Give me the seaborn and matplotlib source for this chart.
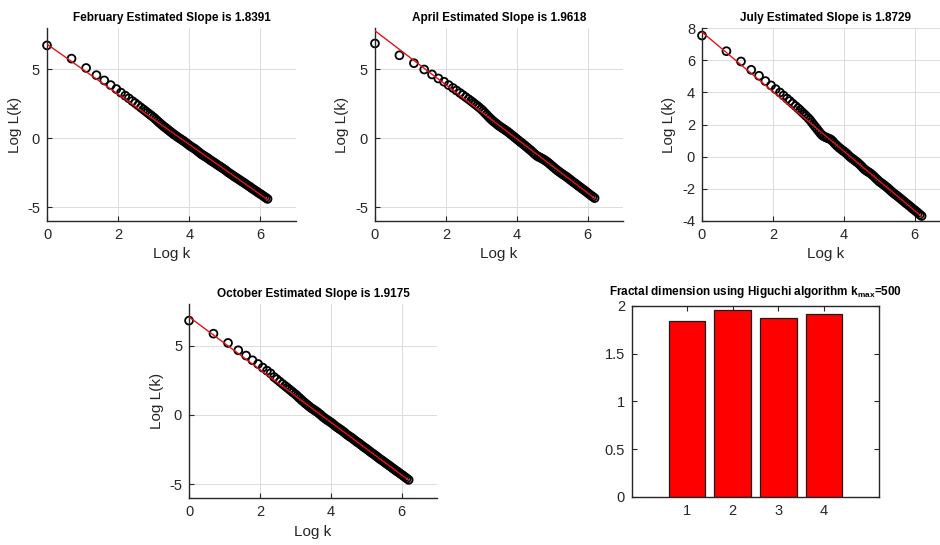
import pandas as pd
import seaborn as sns
import matplotlib.pyplot as plt

sns.set_theme(style="ticks")
plt.rcParams["font.family"] = ["Liberation Sans", "DejaVu Sans"]
plt.rcParams["mathtext.default"] = "regular"
plt.rcParams["axes.unicode_minus"] = False

# Data -------------------------------------------------------------------------

log_k = [0.00, 0.69, 1.10, 1.39, 1.61, 1.79, 1.95, 2.08, 2.20, 2.30,
         2.40, 2.48, 2.56, 2.64, 2.71, 2.77, 2.83, 2.89, 2.94, 3.00,
         3.05, 3.10, 3.15, 3.20, 3.25, 3.30, 3.35, 3.40, 3.45, 3.50,
         3.55, 3.60, 3.65, 3.70, 3.75, 3.80, 3.85, 3.90, 3.95, 4.00,
         4.05, 4.10, 4.15, 4.20, 4.25, 4.30, 4.35, 4.40, 4.45, 4.50,
         4.55, 4.60, 4.65, 4.70, 4.75, 4.80, 4.85, 4.90, 4.95, 5.00,
         5.05, 5.10, 5.15, 5.20, 5.25, 5.30, 5.35, 5.40, 5.45, 5.50,
         5.55, 5.60, 5.65, 5.70, 5.75, 5.80, 5.85, 5.90, 5.95, 6.00,
         6.05, 6.10, 6.15, 6.20]

feb_log_L = [6.74, 5.78, 5.10, 4.58, 4.20, 3.86, 3.57, 3.31, 3.09, 2.90,
             2.70, 2.55, 2.39, 2.23, 2.09, 1.97, 1.85, 1.73, 1.63, 1.51,
             1.39, 1.27, 1.15, 1.04, 0.93, 0.82, 0.73, 0.62, 0.52, 0.42,
             0.32, 0.23, 0.13, 0.04, -0.04, -0.13, -0.21, -0.31, -0.41, -0.51,
             -0.60, -0.68, -0.76, -0.86, -0.97, -1.07, -1.17, -1.25, -1.33, -1.41,
             -1.50, -1.60, -1.68, -1.76, -1.85, -1.94, -2.02, -2.11, -2.19, -2.28,
             -2.38, -2.48, -2.57, -2.65, -2.75, -2.83, -2.91, -3.00, -3.08, -3.17,
             -3.25, -3.34, -3.43, -3.51, -3.61, -3.70, -3.78, -3.87, -3.96, -4.04,
             -4.13, -4.22, -4.31, -4.40]

apr_log_L = [6.88, 6.02, 5.45, 4.99, 4.63, 4.34, 4.10, 3.86, 3.65, 3.47,
             3.29, 3.14, 2.99, 2.84, 2.71, 2.59, 2.47, 2.35, 2.24, 2.11,
             1.99, 1.85, 1.72, 1.58, 1.45, 1.33, 1.22, 1.12, 1.01, 0.91,
             0.82, 0.73, 0.65, 0.56, 0.47, 0.37, 0.26, 0.16, 0.06, -0.05,
             -0.15, -0.26, -0.35, -0.46, -0.56, -0.67, -0.78, -0.88, -1.00, -1.12,
             -1.23, -1.32, -1.38, -1.45, -1.52, -1.60, -1.69, -1.79, -1.90, -2.01,
             -2.12, -2.23, -2.33, -2.43, -2.52, -2.61, -2.70, -2.78, -2.88, -2.98,
             -3.08, -3.18, -3.27, -3.37, -3.47, -3.56, -3.66, -3.75, -3.85, -3.95,
             -4.05, -4.15, -4.24, -4.34]

jul_log_L = [7.53, 6.56, 5.92, 5.40, 5.03, 4.70, 4.43, 4.20, 3.99, 3.80,
             3.61, 3.46, 3.30, 3.15, 3.01, 2.89, 2.76, 2.64, 2.53, 2.40,
             2.28, 2.13, 1.99, 1.85, 1.71, 1.57, 1.43, 1.32, 1.25, 1.20,
             1.15, 1.11, 1.04, 0.94, 0.81, 0.70, 0.60, 0.51, 0.42, 0.34,
             0.26, 0.16, 0.05, -0.05, -0.13, -0.21, -0.30, -0.38, -0.48, -0.59,
             -0.71, -0.81, -0.89, -0.96, -1.03, -1.12, -1.22, -1.33, -1.43, -1.54,
             -1.62, -1.70, -1.78, -1.87, -1.96, -2.06, -2.16, -2.26, -2.34, -2.42,
             -2.51, -2.60, -2.69, -2.78, -2.88, -2.96, -3.05, -3.14, -3.24, -3.32,
             -3.41, -3.50, -3.60, -3.69]

oct_log_L = [6.80, 5.86, 5.19, 4.66, 4.28, 3.94, 3.67, 3.41, 3.19, 3.00,
             2.73, 2.57, 2.40, 2.23, 2.09, 1.97, 1.84, 1.72, 1.61, 1.49,
             1.38, 1.25, 1.14, 1.02, 0.91, 0.80, 0.70, 0.59, 0.49, 0.41,
             0.32, 0.24, 0.14, 0.04, -0.08, -0.18, -0.28, -0.37, -0.45, -0.54,
             -0.63, -0.74, -0.84, -0.93, -1.02, -1.10, -1.20, -1.30, -1.41, -1.50,
             -1.59, -1.67, -1.77, -1.87, -1.97, -2.05, -2.15, -2.25, -2.35, -2.43,
             -2.53, -2.63, -2.73, -2.81, -2.91, -3.00, -3.11, -3.20, -3.29, -3.38,
             -3.48, -3.56, -3.66, -3.75, -3.85, -3.94, -4.04, -4.12, -4.22, -4.31,
             -4.40, -4.50, -4.59, -4.69]

# fitted lines (end points)
fit_x = [0.0, 6.21]
feb_fit = [6.83, -4.47]
apr_fit = [7.80, -4.37]
jul_fit = [7.75, -3.74]
oct_fit = [7.07, -4.73]

months = ["February", "April", "July", "October"]
slopes = [1.8391, 1.9618, 1.8729, 1.9175]
bar_pos = [1, 2, 3, 4]

# Figura -----------------------------------------------------------------------

fig = plt.figure(figsize=(9.4, 5.45), dpi=100)

ink = "#262626"


def loglog_panel(rect, y, fit, title, ylim, yticks):
    ax = fig.add_axes(rect)
    df = pd.DataFrame({"log_k": log_k, "log_L": y})
    sns.scatterplot(data=df, x="log_k", y="log_L", ax=ax, marker="o", s=32,
                    facecolor="none", edgecolor="black", linewidth=1.3, zorder=2,
                    clip_on=False)
    sns.lineplot(x=fit_x, y=fit, ax=ax, color="#e0141b", linewidth=1.0, zorder=3)
    ax.set_xlim(0, 7)
    ax.set_ylim(*ylim)
    ax.set_xticks([0, 2, 4, 6])
    ax.set_yticks(yticks)
    ax.grid(True, color="#dcdcdc", linewidth=0.7)
    ax.set_axisbelow(True)
    for s in ["top", "right"]:
        ax.spines[s].set_visible(False)
    for s in ["left", "bottom"]:
        ax.spines[s].set_color(ink)
        ax.spines[s].set_linewidth(1.0)
    ax.tick_params(direction="in", length=3.5, width=0.8, colors=ink, labelsize=10.5, pad=5)
    ax.set_xlabel("Log k", fontsize=11, color=ink)
    ax.set_ylabel("Log L(k)", fontsize=11, color=ink)
    ax.set_title(title, fontsize=8.5, fontweight="bold", color="black", pad=5)
    return ax


loglog_panel([0.0500, 0.5945, 0.2649, 0.3541], feb_log_L, feb_fit,
             "February Estimated Slope is 1.8391", (-6, 8), [-5, 0, 5])
loglog_panel([0.3989, 0.5945, 0.2638, 0.3541], apr_log_L, apr_fit,
             "April Estimated Slope is 1.9618", (-6, 8), [-5, 0, 5])
loglog_panel([0.7468, 0.5945, 0.2638, 0.3541], jul_log_L, jul_fit,
             "July Estimated Slope is 1.8729", (-4, 8), [-4, -2, 0, 2, 4, 6, 8])
loglog_panel([0.2011, 0.0862, 0.2638, 0.3560], oct_log_L, oct_fit,
             "October Estimated Slope is 1.9175", (-6, 8), [-5, 0, 5])

# Barras -----------------------------------------------------------------------

ax = fig.add_axes([0.6723, 0.0881, 0.2628, 0.3505])
sns.barplot(x=bar_pos, y=slopes, native_scale=True, ax=ax, color="#ff0000",
            saturation=1, edgecolor="#1a1a1a", linewidth=0.9, width=0.8, errorbar=None)
ax.set_xlim(-0.2, 5.2)
ax.set_ylim(0, 2)
ax.set_xticks(bar_pos)
ax.set_xticklabels(["1", "2", "3", "4"])
ax.set_yticks([0, 0.5, 1, 1.5, 2])
ax.set_yticklabels(["0", "0.5", "1", "1.5", "2"])
for s in ax.spines.values():
    s.set_color(ink)
    s.set_linewidth(1.0)
ax.tick_params(direction="in", length=3.5, width=0.8, colors=ink, labelsize=10.5, pad=5,
               top=True, right=True)
ax.set_xlabel("")
ax.set_ylabel("")
ax.set_title(r"Fractal dimension using Higuchi algorithm $\mathregular{k_{max}}$=500",
             fontsize=8.5, fontweight="bold", color="black", pad=8)

fig.savefig("out.png", dpi=100)
